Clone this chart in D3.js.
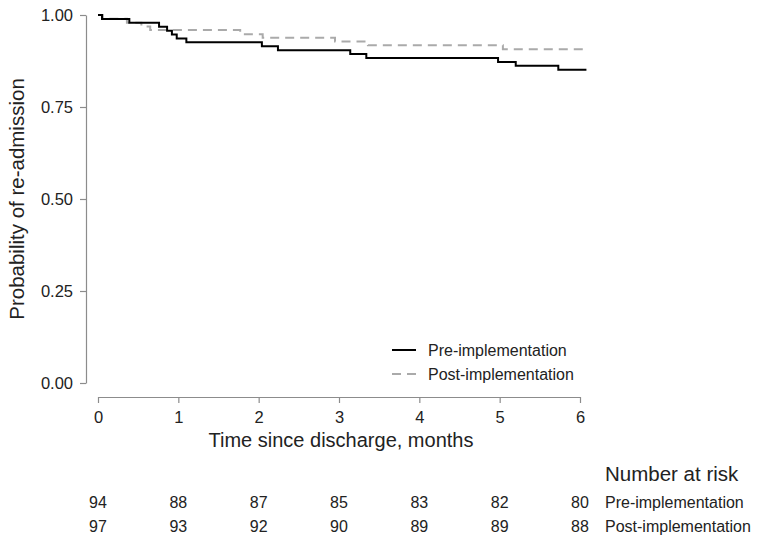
<!DOCTYPE html>
<html>
<head>
<meta charset="utf-8">
<script src="https://cdn.jsdelivr.net/npm/d3@7"></script>
<style>
  body { margin: 0; background: #fff; }
  svg { font-family: "Liberation Sans", Arial, sans-serif; }
  .axis path, .axis line { stroke: #8c8c8c; stroke-width: 1.2; }
  .axis text { fill: #222; font-size: 16.5px; }
</style>
</head>
<body>
<svg id="chart" width="760" height="542"></svg>
<script>
// step times (months) and survival values
var preTime = [0, 0.05, 0.39, 0.76, 0.86, 0.92, 0.98, 1.10, 2.04, 2.24, 3.14, 3.34, 4.98, 5.20, 5.73, 6.08];
var preSurv = [1, 0.989, 0.979, 0.968, 0.957, 0.947, 0.936, 0.926, 0.915, 0.904, 0.894, 0.883, 0.872, 0.862, 0.851, 0.851];
var postTime = [0, 0.06, 0.36, 0.54, 0.65, 1.77, 2.05, 2.95, 3.36, 5.04, 6.08];
var postSurv = [1, 0.990, 0.979, 0.969, 0.959, 0.948, 0.938, 0.928, 0.918, 0.907, 0.907];

var xTicks = [0, 1, 2, 3, 4, 5, 6];
var yTicks = [0, 0.25, 0.5, 0.75, 1];
var groups = ["Pre-implementation", "Post-implementation"];
var riskPre = [94, 88, 87, 85, 83, 82, 80];
var riskPost = [97, 93, 92, 90, 89, 89, 88];

var svg = d3.select("#chart");

var x = d3.scaleLinear().domain([0, 6]).range([98, 580]);
var y = d3.scaleLinear().domain([0, 1]).range([383, 15]);

//axes
svg.append("g")
  .attr("class", "axis")
  .attr("transform", "translate(86,0)")
  .call(d3.axisLeft(y).tickValues(yTicks).tickFormat(d3.format(".2f")).tickSize(6).tickSizeOuter(0).tickPadding(7));

svg.append("g")
  .attr("class", "axis")
  .attr("transform", "translate(0,397)")
  .call(d3.axisBottom(x).tickValues(xTicks).tickFormat(d3.format("d")).tickSize(6).tickSizeOuter(0).tickPadding(8));

svg.append("text")
  .attr("transform", "translate(24,199) rotate(-90)")
  .attr("text-anchor", "middle")
  .style("font-size", "20.5px").style("fill", "#222")
  .text("Probability of re-admission");

svg.append("text")
  .attr("x", 341).attr("y", 447)
  .attr("text-anchor", "middle")
  .style("font-size", "20px").style("fill", "#222")
  .text("Time since discharge, months");

//curves
var line = d3.line()
  .x(function(d) { return x(d[0]); })
  .y(function(d) { return y(d[1]); })
  .curve(d3.curveStepAfter);

svg.append("path")
  .datum(d3.zip(postTime, postSurv))
  .attr("fill", "none")
  .attr("stroke", "#aaaaaa")
  .attr("stroke-width", 2)
  .attr("stroke-dasharray", "9,6")
  .attr("d", line);

svg.append("path")
  .datum(d3.zip(preTime, preSurv))
  .attr("fill", "none")
  .attr("stroke", "#000")
  .attr("stroke-width", 2)
  .attr("d", line);

//legend
var legend = svg.append("g").attr("transform", "translate(392,350)");
var legStyles = [{ c: "#000", dash: null }, { c: "#aaaaaa", dash: "9,6" }];
groups.forEach(function(g, i) {
  legend.append("line")
    .attr("x1", 0).attr("x2", 24)
    .attr("y1", i * 24).attr("y2", i * 24)
    .attr("stroke", legStyles[i].c)
    .attr("stroke-width", 2)
    .attr("stroke-dasharray", legStyles[i].dash);
  legend.append("text")
    .attr("x", 36).attr("y", i * 24 + 6)
    .style("font-size", "16px").style("fill", "#222")
    .text(g);
});

//risk table
svg.append("text")
  .attr("x", 605).attr("y", 481)
  .style("font-size", "20.5px").style("fill", "#222")
  .text("Number at risk");

[riskPre, riskPost].forEach(function(row, r) {
  var yy = 508 + r * 24;
  svg.selectAll(".risk" + r)
    .data(row)
    .enter().append("text")
    .attr("x", function(d, i) { return x(xTicks[i]); })
    .attr("y", yy)
    .attr("text-anchor", "middle")
    .style("font-size", "16px").style("fill", "#222")
    .text(function(d) { return d; });
  svg.append("text")
    .attr("x", 605).attr("y", yy)
    .style("font-size", "16px").style("fill", "#222")
    .text(groups[r]);
});
</script>
</body>
</html>
